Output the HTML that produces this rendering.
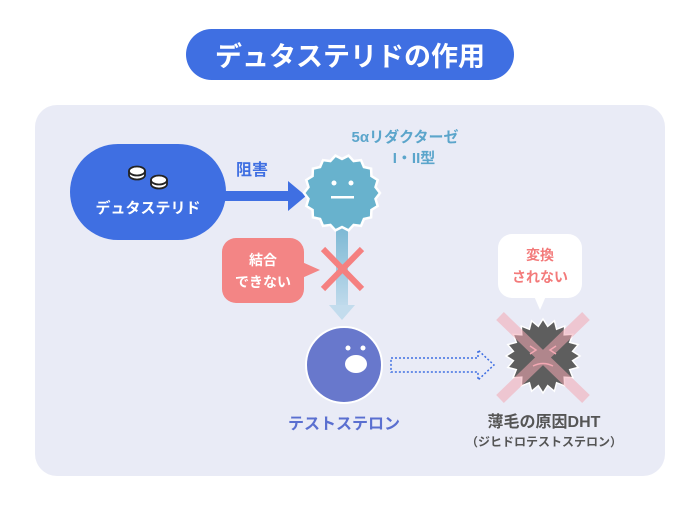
<!DOCTYPE html><html><head><meta charset="utf-8"><style>
body{margin:0;width:700px;height:512px;background:#fff;overflow:hidden}
svg text{font-family:"Liberation Sans","Noto Sans CJK JP",sans-serif;font-weight:bold}
</style></head><body>
<svg width="700" height="512" xmlns="http://www.w3.org/2000/svg">
<defs>
<linearGradient id="g" x1="0" y1="0" x2="0" y2="1"><stop offset="0" stop-color="#7ab7d3"/><stop offset="1" stop-color="#c3dced"/></linearGradient>
</defs>
<rect x="186" y="29" width="328" height="51" rx="25.5" fill="#3f6fe2"/>
<text x="350" y="66" font-size="27" fill="#fff" text-anchor="middle">デュタステリドの作用</text>
<rect x="35" y="105" width="630" height="371" rx="22" fill="#e9ebf6"/>
<rect x="70" y="144" width="156" height="96" rx="48" fill="#3f6fe2"/>
<g fill="#fff" stroke="#222" stroke-width="1.8">
<path d="M129,171 v4 a8,4.5 0 0 0 16,0 v-4"/><ellipse cx="137" cy="171" rx="8" ry="4.5"/>
<path d="M151,180 v4 a8,4.5 0 0 0 16,0 v-4"/><ellipse cx="159" cy="180" rx="8" ry="4.5"/>
</g>
<text x="148" y="213" font-size="15" fill="#fff" text-anchor="middle">デュタステリド</text>
<rect x="224" y="191" width="66" height="10" fill="#3f6fe2"/>
<polygon points="288,181 306,196 288,211" fill="#3f6fe2"/>
<text x="252" y="175" font-size="16" fill="#3f6fe2" text-anchor="middle">阻害</text>
<rect x="336" y="225" width="12" height="85" fill="url(#g)"/>
<polygon points="329,305 355,305 342,320" fill="#c3dced"/>
<polygon id="enz" points="" fill="#68b2cd" stroke="#fff" stroke-width="2.5"/>
<g fill="#fff"><circle cx="334" cy="183" r="2.5"/><circle cx="351" cy="183" r="2.5"/><rect x="331" y="196" width="23" height="2.5"/></g>
<text x="405" y="142" font-size="15" fill="#5ba5cb" text-anchor="middle">5αリダクターゼ</text>
<text x="414" y="163" font-size="15" fill="#5ba5cb" text-anchor="middle">I・II型</text>
<g stroke="#f58080" stroke-width="6"><line x1="323" y1="249" x2="362" y2="289"/><line x1="362" y1="249" x2="323" y2="289"/></g>
<rect x="222" y="238" width="82" height="65" rx="14" fill="#f38585"/>
<polygon points="302,262 320,270 302,278" fill="#f38585"/>
<text x="263" y="265" font-size="14" fill="#fff" text-anchor="middle">結合</text>
<text x="263" y="287" font-size="14" fill="#fff" text-anchor="middle">できない</text>
<circle cx="344" cy="365" r="38" fill="#6878cc" stroke="#fff" stroke-width="2"/>
<g fill="#fff"><circle cx="348" cy="348" r="2.5"/><circle cx="363" cy="348" r="2.5"/><ellipse cx="356" cy="364" rx="11" ry="9"/></g>
<text x="344" y="429" font-size="16" fill="#5a6fd0" text-anchor="middle">テストステロン</text>
<path d="M391,358 H478 V350 L494,365 L478,380 V372 H391 Z" fill="none" stroke="#3f6fe2" stroke-width="1.5" stroke-dasharray="2,2"/>
<polygon id="dht" points="" fill="#5e5e5e" stroke="#fff" stroke-width="1.5"/>
<g stroke="#f3a8b3" stroke-width="11" opacity="0.55"><line x1="500" y1="316" x2="586" y2="399"/><line x1="586" y1="316" x2="500" y2="399"/></g>
<g stroke="#f3a8b3" stroke-width="1.5" fill="none"><path d="M530,346 l6,4 l-6,4"/><path d="M556,346 l-6,4 l6,4"/><path d="M533,366 q10,-5 20,0"/></g>
<rect x="498" y="234" width="84" height="64" rx="14" fill="#fff"/>
<polygon points="534,296 546,296 540,310" fill="#fff"/>
<text x="540" y="260" font-size="14" fill="#f37a7a" text-anchor="middle">変換</text>
<text x="540" y="282" font-size="14" fill="#f37a7a" text-anchor="middle">されない</text>
<text x="544" y="427" font-size="16" fill="#555" text-anchor="middle">薄毛の原因DHT</text>
<text x="544" y="446" font-size="12" fill="#555" text-anchor="middle" font-weight="normal">（ジヒドロテストステロン）</text>
</svg>
<script>
function star(id,cx,cy,r1,r2,n){var p=[];for(var i=0;i<2*n;i++){var a=Math.PI*i/n;var r=i%2?r2:r1;p.push((cx+r*Math.cos(a)).toFixed(1)+","+(cy+r*Math.sin(a)).toFixed(1));}document.getElementById(id).setAttribute("points",p.join(" "));}
star("enz",342,193,38,34,18);star("dht",543,356,37,30,20);
</script>
</body></html>
